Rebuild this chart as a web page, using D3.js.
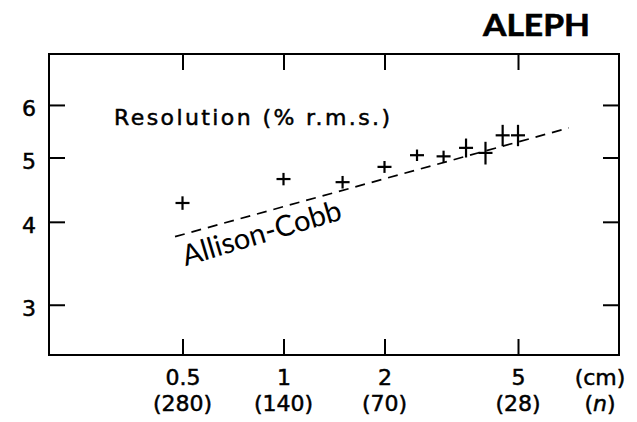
<!DOCTYPE html>
<html>
<head>
<meta charset="utf-8">
<script src="https://cdn.jsdelivr.net/npm/d3@7"></script>
<style>
  body { margin: 0; background: #fff; }
  svg { display: block; }
</style>
</head>
<body>
<script>
// track length (cm) vs dE/dx resolution, log-log
const xTicks = [0.5, 1, 2, 5];
const nLabels = ["(280)", "(140)", "(70)", "(28)"];
const yTicks = [3, 4, 5, 6];
const trackLen = [0.5, 1, 1.5, 2, 2.5, 3, 3.5, 4, 4.5, 5];
const resolution = [4.27, 4.64, 4.59, 4.84, 5.04, 5.02, 5.17, 5.08, 5.40, 5.40];
const resErr = [0.1, 0.1, 0.1, 0.1, 0.1, 0.1, 0.17, 0.2, 0.2, 0.2];
const acLine = [[0.475, 3.80], [7.08, 5.54]];

const width = 637, height = 422;
const m = { left: 49, right: 619, top: 54, bottom: 355 };

const svg = d3.select("body").append("svg")
    .attr("width", width)
    .attr("height", height);

const x = d3.scaleLog().domain([0.2, 10]).range([m.left, m.right]);
const y = d3.scaleLog().domain([2.52, 7.16]).range([m.bottom, m.top]);

const fam = "'DejaVu Sans', sans-serif";
const fs = 22;

// scanned look: slightly heavier strokes on the labels
function label(sel) {
    return sel.attr("font-family", fam).attr("font-size", fs).attr("fill", "#000")
        .attr("stroke", "#000").attr("stroke-width", 0.5);
}

// bottom axis, ticks pointing in
const xAxis = svg.append("g")
    .attr("transform", `translate(0,${m.bottom})`)
    .call(d3.axisBottom(x).tickValues(xTicks).tickSize(-16)
        .tickFormat(d => d3.format("")(d)));
xAxis.select(".domain").remove();
xAxis.selectAll("line").attr("stroke", "#000").attr("stroke-width", 2);
xAxis.selectAll("text").call(label).attr("y", 30).attr("dy", null);

// second row (n)
svg.append("g")
    .selectAll("text")
    .data(xTicks)
    .join("text")
    .attr("x", d => x(d))
    .attr("y", 411)
    .attr("text-anchor", "middle")
    .call(label)
    .text((d, i) => nLabels[i]);

svg.append("text").attr("x", 600).attr("y", 385).attr("text-anchor", "middle")
    .call(label).text("(cm)");
svg.append("text").attr("x", 600).attr("y", 411).attr("text-anchor", "middle")
    .call(label)
    .html("(<tspan font-style='italic'>n</tspan>)");

// top axis (ticks only)
const xTop = svg.append("g")
    .attr("transform", `translate(0,${m.top})`)
    .call(d3.axisTop(x).tickValues(xTicks).tickSize(-16).tickFormat(""));
xTop.select(".domain").remove();
xTop.selectAll("line").attr("stroke", "#000").attr("stroke-width", 2);

// left axis
const yAxis = svg.append("g")
    .attr("transform", `translate(${m.left},0)`)
    .call(d3.axisLeft(y).tickValues(yTicks).tickSize(-16)
        .tickFormat(d3.format("d")));
yAxis.select(".domain").remove();
yAxis.selectAll("line").attr("stroke", "#000").attr("stroke-width", 2);
yAxis.selectAll("text").call(label)
    .attr("text-anchor", "middle").attr("x", -20).attr("dy", "0.48em");

// right axis (ticks only)
const yRight = svg.append("g")
    .attr("transform", `translate(${m.right},0)`)
    .call(d3.axisRight(y).tickValues(yTicks).tickSize(-16).tickFormat(""));
yRight.select(".domain").remove();
yRight.selectAll("line").attr("stroke", "#000").attr("stroke-width", 2);

// frame
svg.append("rect")
    .attr("x", m.left).attr("y", m.top)
    .attr("width", m.right - m.left).attr("height", m.bottom - m.top)
    .attr("fill", "none").attr("stroke", "#000").attr("stroke-width", 2);

// Allison-Cobb dashed line
svg.append("path")
    .datum(acLine)
    .attr("d", d3.line().x(d => x(d[0])).y(d => y(d[1])))
    .attr("fill", "none")
    .attr("stroke", "#000")
    .attr("stroke-width", 1.7)
    .attr("stroke-dasharray", "10,7");

// data crosses
const pts = trackLen.map((t, i) => ({ t: t, r: resolution[i], e: resErr[i] }));
const cross = svg.append("g").attr("stroke", "#000").attr("stroke-width", 2.2);
cross.selectAll("line.h")
    .data(pts)
    .join("line")
    .attr("class", "h")
    .attr("x1", d => x(d.t) - 7).attr("x2", d => x(d.t) + 7)
    .attr("y1", d => y(d.r)).attr("y2", d => y(d.r));
cross.selectAll("line.v")
    .data(pts)
    .join("line")
    .attr("class", "v")
    .attr("x1", d => x(d.t)).attr("x2", d => x(d.t))
    .attr("y1", d => y(d.r - d.e)).attr("y2", d => y(d.r + d.e));

// labels
svg.append("text")
    .attr("x", 114).attr("y", 125)
    .attr("textLength", 276).attr("lengthAdjust", "spacing")
    .call(label)
    .text("Resolution (% r.m.s.)");

svg.append("text")
    .attr("transform", `translate(${x(0.51)},${y(3.43)}) rotate(-16.6)`)
    .attr("textLength", 165).attr("lengthAdjust", "spacingAndGlyphs")
    .attr("font-family", "Lato, 'Open Sans', sans-serif")
    .attr("font-size", 29)
    .text("Allison-Cobb");

svg.append("text")
    .attr("x", 483).attr("y", 36)
    .attr("textLength", 107).attr("lengthAdjust", "spacingAndGlyphs")
    .attr("font-family", "Lato, 'Open Sans', sans-serif")
    .attr("font-weight", "bold")
    .attr("stroke", "#000").attr("stroke-width", 0.6)
    .attr("font-size", 30)
    .text("ALEPH");
</script>
</body>
</html>
